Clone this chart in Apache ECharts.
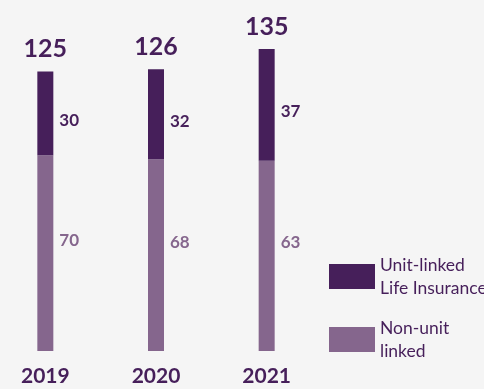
<!DOCTYPE html>
<html>
<head>
<meta charset="utf-8">
<script src="https://cdn.jsdelivr.net/npm/echarts@6/dist/echarts.min.js"></script>
<style>
  html, body { margin: 0; padding: 0; background: #f5f5f5; }
  #chart { width: 484px; height: 389px; }
</style>
</head>
<body>
<div id="chart"></div>
<script>
// Years shown on the axis
const years = ['2019', '2020', '2021'];
// Total premiums per year
const totals = [125, 126, 135];
// Share of each business line, in percent
const unitLinkedShare = [30, 32, 37];
const nonUnitShare = [70, 68, 63];

const DARK = '#461f5a';
const LIGHT = '#85668d';
const FONT = 'Lato, "Noto Sans", sans-serif';

// Segment sizes: each share applied to that year's total
const unitLinkedValues = totals.map((t, i) => t * unitLinkedShare[i] / 100);
const nonUnitValues = totals.map((t, i) => t * nonUnitShare[i] / 100);

const chart = echarts.init(document.getElementById('chart'));
chart.setOption({
  backgroundColor: '#f5f5f5',
  animation: false,
  grid: { left: -10, right: 162, top: 15.5, bottom: 38, outerBoundsMode: 'none' },
  xAxis: {
    type: 'category',
    data: years,
    axisLine: { show: false },
    axisTick: { show: false },
    axisLabel: {
      margin: 15,
      color: DARK,
      fontFamily: FONT,
      fontWeight: 'bold',
      fontSize: 21
    }
  },
  yAxis: { type: 'value', min: 0, max: 150, show: false },
  legend: {
    orient: 'vertical',
    left: 329,
    top: 244,
    padding: 0,
    itemWidth: 46,
    itemHeight: 25,
    itemGap: -2,
    icon: 'rect',
    data: ['Unit-linked\nLife Insurance', 'Non-unit\nlinked'],
    textStyle: {
      color: DARK,
      fontFamily: FONT,
      fontSize: 17.5,
      lineHeight: 23,
      padding: [19, 0, 0, 0]
    }
  },
  series: [
    {
      name: 'Non-unit\nlinked',
      type: 'bar',
      stack: 'total',
      barWidth: 16,
      data: nonUnitValues,
      itemStyle: { color: LIGHT },
      label: {
        show: true,
        position: 'right',
        distance: 6,
        offset: [0, -13],
        color: LIGHT,
        fontFamily: FONT,
        fontWeight: 'bold',
        fontSize: 17,
        formatter: p => nonUnitShare[p.dataIndex]
      }
    },
    {
      name: 'Unit-linked\nLife Insurance',
      type: 'bar',
      stack: 'total',
      barWidth: 16,
      data: unitLinkedValues,
      itemStyle: { color: DARK },
      label: {
        show: true,
        position: 'right',
        distance: 6,
        offset: [0, 7],
        color: DARK,
        fontFamily: FONT,
        fontWeight: 'bold',
        fontSize: 17,
        formatter: p => unitLinkedShare[p.dataIndex]
      }
    },
    {
      name: 'total',
      type: 'scatter',
      symbolSize: 0,
      data: totals,
      silent: true,
      itemStyle: { color: DARK, opacity: 1 },
      label: {
        show: true,
        position: 'top',
        distance: 10,
        color: DARK,
        opacity: 1,
        fontFamily: FONT,
        fontWeight: 'bold',
        fontSize: 25,
        formatter: p => totals[p.dataIndex]
      }
    }
  ]
});
</script>
</body>
</html>
